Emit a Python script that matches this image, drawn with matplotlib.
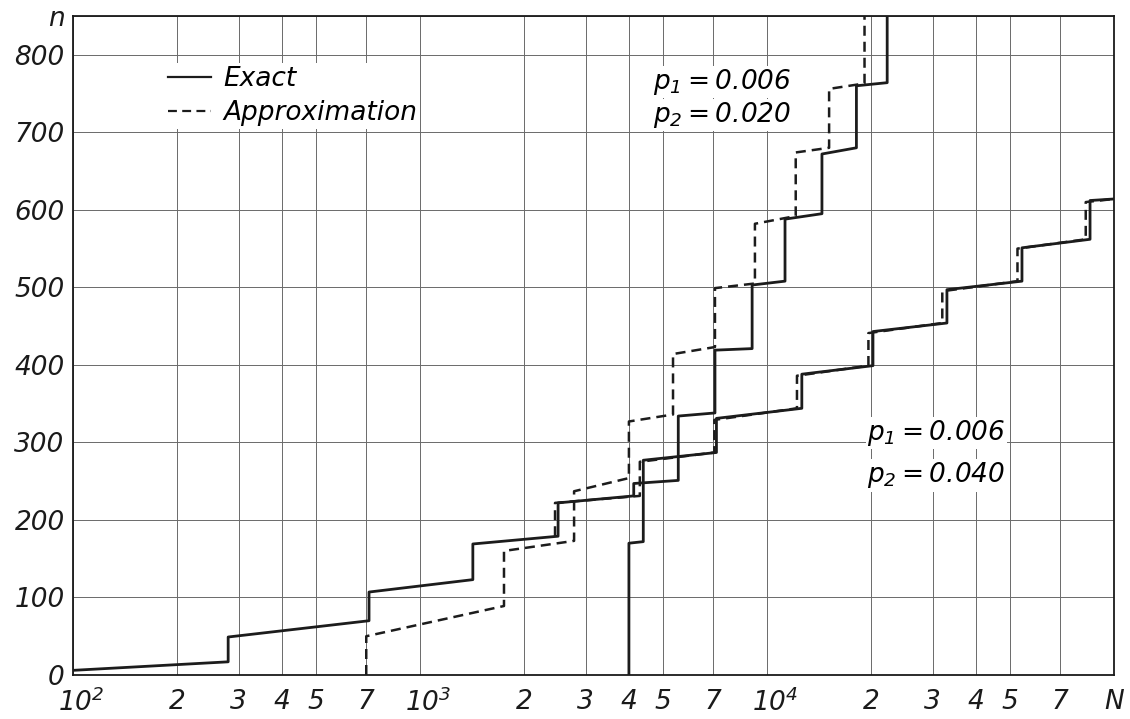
import matplotlib
matplotlib.use("Agg")
import matplotlib.pyplot as plt
from matplotlib.lines import Line2D
from matplotlib.ticker import FixedLocator, NullLocator
from matplotlib.transforms import ScaledTranslation


# Step curves n(N): start point, then the lot sizes where n jumps,
# with n just before (LO) and just after (HI) each jump.
EXACT_020_START = (100, 6)
EXACT_020_JUMP_N = [280, 713, 1420, 2500, 4130, 5550, 7080, 9060, 11270, 14400, 18100, 22200]
EXACT_020_LO = [17, 70, 123, 179, 231, 251, 338, 421, 508, 595, 680, 764]
EXACT_020_HI = [49, 107, 169, 222, 247, 334, 419, 503, 588, 672, 760, 850]

APPROX_020_START = (700, 0)
APPROX_020_JUMP_N = [700, 1746, 2780, 4000, 5360, 7080, 9230, 12100, 15100, 19100]
APPROX_020_LO = [0, 89, 173, 254, 336, 423, 505, 592, 680, 763]
APPROX_020_HI = [50, 160, 237, 327, 414, 499, 582, 674, 756, 850]

EXACT_040_START = (4000, 0)
EXACT_040_JUMP_N = [4000, 4400, 7150, 12600, 20200, 33000, 54300, 85300]
EXACT_040_LO = [0, 172, 287, 344, 399, 454, 508, 562]
EXACT_040_HI = [170, 277, 331, 388, 443, 497, 551, 612]
EXACT_040_END = (100000, 614)

APPROX_040_START = (2450, 179)
APPROX_040_JUMP_N = [2450, 4300, 7050, 12200, 19600, 32000, 52700, 82900]
APPROX_040_LO = [179, 231, 287, 344, 399, 454, 508, 562]
APPROX_040_HI = [222, 275, 329, 386, 441, 495, 550, 610]
APPROX_040_END = (100000, 614)

XTICK_VALUES = [100, 200, 300, 400, 500, 700,
                1000, 2000, 3000, 4000, 5000, 7000,
                10000, 20000, 30000, 40000, 50000, 70000, 100000]
XTICK_LABELS = ["$10^{2}$", "2", "3", "4", "5", "7",
                "$10^{3}$", "2", "3", "4", "5", "7",
                "$10^{4}$", "2", "3", "4", "5", "7", "N"]
YTICK_VALUES = [0, 100, 200, 300, 400, 500, 600, 700, 800, 850]
YTICK_LABELS = ["0", "100", "200", "300", "400", "500", "600", "700", "800", "n"]

LINE_COLOR = "#1c1c1c"
DASH = (0, (4, 2.4))


def step_path(start, jump_n, lo, hi, end=None):
    xs = [start[0]]
    ys = [start[1]]
    for x, a, b in zip(jump_n, lo, hi):
        xs += [x, x]
        ys += [a, b]
    if end is not None:
        xs.append(end[0])
        ys.append(end[1])
    return xs, ys


plt.rcParams.update({
    "font.family": ["DejaVu Sans"],
    "font.style": "italic",
    "mathtext.fontset": "custom",
    "mathtext.rm": "DejaVu Sans:italic",
    "mathtext.it": "DejaVu Sans:italic",
})

fig = plt.figure(figsize=(11.3, 7.19), dpi=100)
ax = fig.add_axes([73 / 1130, 44 / 719, 1041 / 1130, 659 / 719])
ax.set_xscale("log")

curves = [
    (step_path(EXACT_020_START, EXACT_020_JUMP_N, EXACT_020_LO, EXACT_020_HI), "-"),
    (step_path(APPROX_020_START, APPROX_020_JUMP_N, APPROX_020_LO, APPROX_020_HI), DASH),
    (step_path(EXACT_040_START, EXACT_040_JUMP_N, EXACT_040_LO, EXACT_040_HI, EXACT_040_END), "-"),
    (step_path(APPROX_040_START, APPROX_040_JUMP_N, APPROX_040_LO, APPROX_040_HI, APPROX_040_END), DASH),
]
for (xs, ys), ls in curves:
    ax.plot(xs, ys, color=LINE_COLOR, linestyle=ls,
            linewidth=2.0 if ls == "-" else 1.8, zorder=3)

ax.set_xlim(100, 100000)
ax.set_ylim(0, 850)

ax.xaxis.set_major_locator(FixedLocator(XTICK_VALUES))
ax.xaxis.set_minor_locator(NullLocator())
ax.set_xticklabels(XTICK_LABELS)
ax.set_yticks(YTICK_VALUES)
ax.set_yticklabels(YTICK_LABELS)
ax.tick_params(axis="both", length=0, labelsize=19, colors="#1a1a1a")
ax.tick_params(axis="x", pad=10)
ax.tick_params(axis="y", pad=6)

# the decade labels sit with "10" centred on the grid line, exponent hanging right
shift = ScaledTranslation(8 / 100, 0, fig.dpi_scale_trans)
for lab in ax.get_xticklabels():
    if lab.get_text().startswith("$10"):
        lab.set_transform(lab.get_transform() + shift)

ax.grid(True, color="#6a6a6a", linewidth=0.7, zorder=0)
for sp in ax.spines.values():
    sp.set_linewidth(1.3)
    sp.set_color("#1a1a1a")

handles = [
    Line2D([], [], color=LINE_COLOR, linestyle="-", linewidth=1.6),
    Line2D([], [], color=LINE_COLOR, linestyle=DASH, linewidth=1.6),
]
leg = ax.legend(handles, ["Exact", "Approximation"],
                loc="upper left", bbox_to_anchor=(0.089, 0.928),
                borderaxespad=0, frameon=True, fancybox=False,
                facecolor="white", edgecolor="none", framealpha=1,
                fontsize=19, handlelength=1.6, handletextpad=0.5,
                labelspacing=0.3, borderpad=0.1)

box = dict(facecolor="white", edgecolor="none", pad=1)
labels = [
    (0.557, 0.900, "$p_1$\u2009=\u20090.006"),
    (0.557, 0.850, "$p_2$\u2009=\u20090.020"),
    (0.763, 0.367, "$p_1$\u2009=\u20090.006"),
    (0.763, 0.303, "$p_2$\u2009=\u20090.040"),
]
for x, y, s in labels:
    ax.text(x, y, s, transform=ax.transAxes, fontsize=19,
            va="center", ha="left", bbox=box, zorder=4)

fig.savefig("out.png", dpi=100, facecolor="white")
